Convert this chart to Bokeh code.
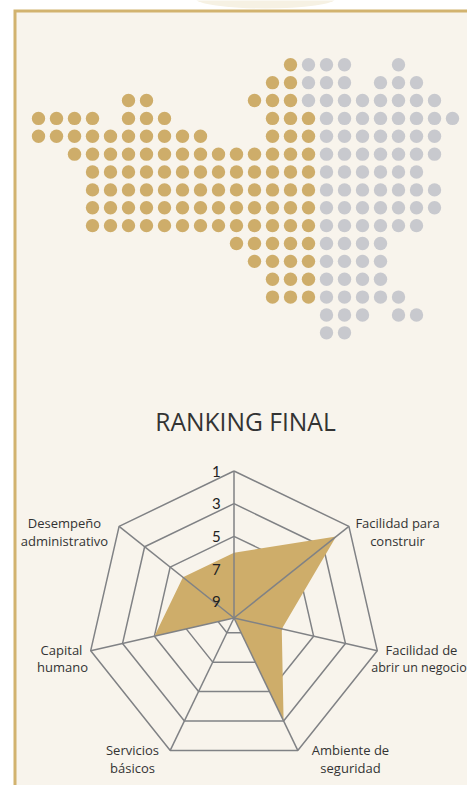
import math
from bokeh.plotting import figure
from bokeh.models import Range1d, ColumnDataSource
from bokeh.core.properties import value
from bokeh.embed import file_html
from bokeh.resources import INLINE

# ---------- data ----------
gold_rows = [
    [(14, 14)], [(13, 14)], [(5, 6), (12, 14)], [(0, 3), (5, 7), (13, 15)],
    [(0, 9), (13, 15)], [(2, 15)], [(3, 15)], [(3, 15)], [(3, 15)], [(3, 15)],
    [(11, 15)], [(12, 15)], [(13, 15)], [(13, 15)], [], [],
]
gray_rows = [
    [(15, 17), (20, 20)], [(15, 17), (19, 21)], [(15, 22)], [(16, 23)],
    [(16, 22)], [(16, 22)], [(16, 21)], [(16, 22)], [(16, 22)], [(16, 21)],
    [(16, 19)], [(16, 19)], [(16, 19)], [(16, 20)], [(16, 18), (20, 21)], [(16, 17)],
]
ranks = [6, 2, 7, 3, 10, 5, 6]
rings = [1, 3, 5, 7, 9]
tick_labels = ["1", "3", "5", "7", "9"]
label_lines = [
    ("Desempeño", 64, 522, "13px"), ("administrativo", 64, 540, "13px"),
    ("Facilidad para", 397, 522, "13px"), ("construir", 397, 540, "13px"),
    ("Facilidad de", 421, 649, "13px"), ("abrir un negocio", 418.5, 667, "12.5px"),
    ("Ambiente de", 350, 749, "13px"), ("seguridad", 350, 767, "13px"),
    ("Servicios", 132, 749, "13px"), ("básicos", 132, 767, "13px"),
    ("Capital", 61, 649, "13px"), ("humano", 62, 666, "13px"),
]

# ---------- style / layout ----------
W, H = 467, 785
BG = "#f8f4ec"; BORDER = "#d2b36f"; GOLD = "#cead6a"; GRAY = "#c8c9ce"
LINE = "#808285"; INK = "#333333"; FONT = "Open Sans"
DOT_X0, DOT_Y0, DOT_DX, DOT_DY = 38.0, 64.3, 18.0, 17.87
CX, CY, UNIT = 233.5, 617.5, 16.33

p = figure(width=W, height=H, output_backend="svg", toolbar_location=None,
           x_range=Range1d(0, W), y_range=Range1d(H, 0), min_border=0)
p.axis.visible = False
p.grid.visible = False
p.outline_line_color = None
p.background_fill_color = "white"
p.border_fill_color = "white"

p.extra_x_ranges = {
    "col": Range1d(-DOT_X0 / DOT_DX, (W - DOT_X0) / DOT_DX),
    "rad_x": Range1d(-CX / UNIT, (W - CX) / UNIT),
}
p.extra_y_ranges = {
    "row": Range1d((H - DOT_Y0) / DOT_DY, -DOT_Y0 / DOT_DY),
    "rad_y": Range1d((CY - H) / UNIT, CY / UNIT),
}

# panel
p.ellipse(x=[265], y=[-2], width=[140], height=[20], fill_color="#f6f1e3", line_color=None)
p.quad(left=[13], right=[W + 5], top=[9], bottom=[H + 5], fill_color=BORDER, line_color=None)
p.quad(left=[16], right=[W + 5], top=[12], bottom=[H + 5], fill_color=BG, line_color=None)

# dot map
def expand(rows):
    xs, ys = [], []
    for r, spans in enumerate(rows):
        for a, b in spans:
            for c in range(a, b + 1):
                xs.append(c); ys.append(r)
    return xs, ys

for rows, col in ((gold_rows, GOLD), (gray_rows, GRAY)):
    xs, ys = expand(rows)
    p.scatter(xs, ys, size=13.4, fill_color=col, line_color=None,
              x_range_name="col", y_range_name="row")

# radar
n = len(ranks)
ang = [2 * math.pi * i / n for i in range(n)]
def pol(rank, a):
    r = 10 - rank
    return r * math.sin(a), r * math.cos(a)

for rk in rings:
    pts = [pol(rk, a) for a in ang] + [pol(rk, ang[0])]
    p.line([q[0] for q in pts], [q[1] for q in pts], line_color=LINE, line_width=1.5,
           x_range_name="rad_x", y_range_name="rad_y")

pts = [pol(rk, a) for rk, a in zip(ranks, ang)]
p.patch([q[0] for q in pts], [q[1] for q in pts], fill_color=GOLD, line_color=None,
        x_range_name="rad_x", y_range_name="rad_y")

for a in ang:
    e = pol(rings[0], a)
    p.line([0, e[0]], [0, e[1]], line_color=LINE, line_width=1.5,
           x_range_name="rad_x", y_range_name="rad_y")

p.text(x=[-1.08] * len(rings), y=[10 - r for r in rings], text=tick_labels,
       text_font=value("Lato"), text_font_size="15px", text_color="#222222",
       text_align="center", text_baseline="middle",
       x_range_name="rad_x", y_range_name="rad_y")

# texts
p.text(x=[245], y=[421], text=["RANKING FINAL"], text_font=value(FONT), text_font_size="24.6px",
       text_color=INK, text_align="center", text_baseline="middle")
src = ColumnDataSource(dict(x=[q[1] for q in label_lines], y=[q[2] for q in label_lines],
                            t=[q[0] for q in label_lines], s=[q[3] for q in label_lines]))
p.text(x="x", y="y", text="t", source=src, text_font=value(FONT), text_font_size="s",
       text_color=INK, text_align="center", text_baseline="middle")

open("out.html", "w").write(file_html(p, INLINE))
